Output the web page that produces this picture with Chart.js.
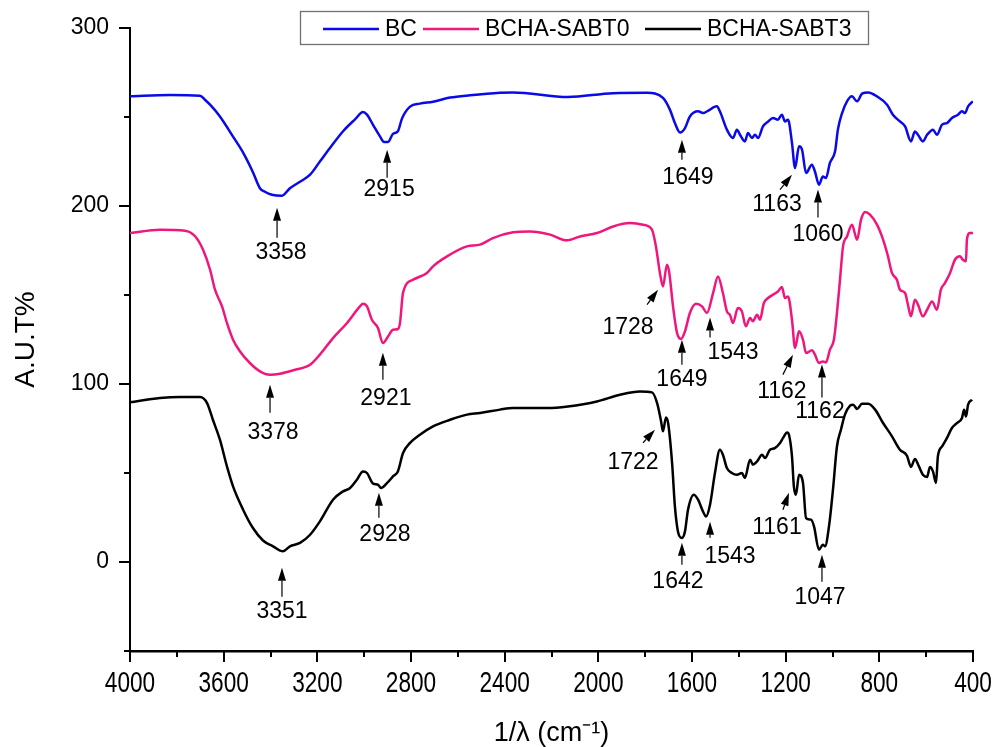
<!DOCTYPE html>
<html>
<head>
<meta charset="utf-8">
<script src="https://cdn.jsdelivr.net/npm/chart.js@4.4.1/dist/chart.umd.min.js"></script>
<style>
  html, body { margin: 0; padding: 0; background: #fff; }
  canvas { display: block; }
</style>
</head>
<body>
<canvas id="ftir" width="995" height="747"></canvas>
<script>
const seriesNames = ["BC", "BCHA-SABT0", "BCHA-SABT3"];
const seriesColors = ["#0a0ae8", "#f0177c", "#000000"];

// [wavenumber cm-1, A.U.T%]
const bcSpectrum = [
  [4000, 261.6], [3829, 262.3], [3701, 262.0], [3680, 259.7], [3658, 256.9], [3616, 250.3],
  [3560, 239.0], [3517, 230.0], [3475, 219.0], [3445, 210.0], [3424, 208.0], [3394, 206.3],
  [3351, 205.8], [3317, 210.0], [3274, 213.6], [3231, 217.6], [3189, 225.0], [3146, 232.6],
  [3090, 242.0], [3039, 248.7], [3005, 252.8], [2988, 251.3], [2962, 245.6], [2932, 239.0],
  [2915, 236.0], [2898, 236.0], [2877, 240.5], [2856, 242.0], [2838, 249.3], [2804, 255.8],
  [2762, 257.5], [2706, 258.6], [2633, 260.9], [2548, 262.2], [2420, 263.6], [2364, 263.8],
  [2130, 261.2], [1937, 263.4], [1792, 263.6], [1724, 260.7], [1694, 254.0], [1673, 246.6],
  [1651, 241.3], [1630, 243.8], [1609, 250.3], [1574, 253.2], [1553, 252.2], [1532, 253.5],
  [1494, 256.0], [1481, 253.2], [1451, 242.9], [1425, 238.2], [1408, 242.9], [1395, 240.0],
  [1374, 236.3], [1361, 241.0], [1344, 238.2], [1331, 240.0], [1318, 238.2], [1297, 244.7],
  [1275, 247.5], [1254, 249.4], [1233, 248.5], [1216, 251.3], [1203, 247.5], [1190, 248.5],
  [1173, 235.4], [1160, 221.3], [1143, 233.5], [1130, 231.6], [1113, 218.5], [1088, 223.2],
  [1075, 219.4], [1058, 212.0], [1041, 216.6], [1028, 215.7], [1011, 224.2], [989, 230.7],
  [977, 242.9], [959, 252.2], [938, 258.8], [917, 261.6], [895, 258.8], [874, 263.1],
  [848, 263.8], [810, 261.6], [767, 256.9], [742, 251.3], [712, 247.5], [690, 244.7],
  [665, 236.3], [648, 241.9], [635, 240.0], [614, 236.3], [596, 240.0], [571, 242.9],
  [554, 240.0], [532, 245.7], [511, 246.6], [490, 249.4], [464, 251.3], [447, 253.2],
  [434, 252.2], [421, 256.0], [400, 258.8]
];

const sabt0Spectrum = [
  [4000, 184.8], [3872, 186.7], [3765, 186.1], [3722, 183.0], [3688, 175.4], [3658, 164.2],
  [3637, 153.0], [3607, 143.6], [3586, 134.3], [3560, 124.9], [3530, 118.3], [3488, 111.8],
  [3445, 107.1], [3402, 105.2], [3359, 105.8], [3295, 108.0], [3231, 110.8], [3189, 116.5],
  [3133, 125.8], [3073, 134.3], [3018, 143.6], [3005, 145.1], [2988, 143.6], [2967, 136.1],
  [2941, 131.5], [2920, 123.0], [2898, 126.7], [2877, 130.5], [2856, 130.9], [2847, 134.3],
  [2834, 151.3], [2791, 158.6], [2732, 162.4], [2706, 166.1], [2646, 171.7], [2561, 177.3],
  [2505, 178.3], [2450, 182.0], [2364, 185.2], [2292, 185.7], [2206, 183.9], [2134, 180.7],
  [2078, 182.9], [2006, 184.8], [1937, 188.5], [1865, 190.4], [1809, 189.5], [1771, 186.7],
  [1754, 177.3], [1737, 162.4], [1724, 154.8], [1707, 167.0], [1698, 163.3], [1681, 143.6],
  [1664, 128.7], [1647, 125.3], [1630, 129.6], [1609, 139.9], [1583, 145.1], [1557, 143.6],
  [1536, 139.9], [1510, 151.1], [1489, 160.4], [1468, 151.1], [1451, 140.8], [1438, 138.9],
  [1425, 134.3], [1404, 142.7], [1387, 140.8], [1370, 132.4], [1352, 137.1], [1340, 135.2],
  [1322, 138.9], [1310, 136.1], [1293, 145.5], [1275, 148.3], [1254, 150.2], [1233, 152.0],
  [1216, 154.5], [1203, 148.3], [1190, 149.2], [1173, 136.1], [1160, 120.2], [1143, 129.6],
  [1126, 124.9], [1113, 117.4], [1088, 118.9], [1075, 116.5], [1058, 111.8], [1041, 112.7],
  [1028, 112.1], [1011, 119.3], [994, 124.9], [981, 139.9], [968, 158.6], [955, 177.3],
  [938, 182.9], [917, 189.5], [895, 181.1], [878, 192.3], [861, 196.6], [840, 195.1],
  [810, 189.5], [784, 181.1], [763, 171.7], [746, 162.4], [725, 158.6], [712, 153.0],
  [690, 151.1], [678, 144.6], [665, 138.0], [648, 147.4], [635, 144.6], [614, 138.0],
  [596, 141.7], [575, 146.4], [554, 141.7], [537, 153.0], [520, 156.7], [498, 162.4],
  [477, 169.8], [456, 171.7], [443, 169.8], [430, 168.9], [426, 181.1], [413, 184.8],
  [400, 184.8]
];

const sabt3Spectrum = [
  [4000, 89.7], [3872, 92.1], [3786, 92.7], [3701, 92.7], [3671, 89.3], [3646, 79.9],
  [3616, 68.7], [3586, 53.7], [3560, 42.5], [3517, 29.4], [3475, 19.1], [3432, 12.1],
  [3389, 8.8], [3347, 6.0], [3317, 8.8], [3274, 10.7], [3231, 15.3], [3189, 22.8],
  [3133, 35.0], [3090, 39.7], [3060, 41.6], [3031, 46.2], [3005, 50.9], [2988, 50.0],
  [2962, 44.0], [2941, 43.4], [2928, 41.6], [2902, 44.4], [2877, 48.1], [2856, 50.9],
  [2834, 61.2], [2804, 66.9], [2762, 71.5], [2706, 76.2], [2633, 79.9], [2561, 82.8],
  [2505, 83.7], [2420, 85.6], [2364, 86.5], [2219, 86.5], [2130, 87.4], [2006, 90.2],
  [1907, 94.0], [1822, 95.8], [1771, 95.3], [1749, 89.3], [1732, 79.0], [1724, 73.4],
  [1711, 81.2], [1702, 78.1], [1685, 55.6], [1673, 31.2], [1660, 17.2], [1643, 13.5],
  [1630, 17.2], [1617, 29.4], [1592, 37.8], [1574, 35.0], [1553, 28.4], [1540, 25.6],
  [1523, 32.2], [1502, 50.0], [1481, 63.1], [1468, 60.3], [1451, 52.8], [1430, 50.0],
  [1408, 49.0], [1387, 50.0], [1374, 47.2], [1352, 57.5], [1340, 54.7], [1322, 56.5],
  [1301, 60.3], [1288, 58.4], [1267, 63.1], [1246, 64.0], [1224, 66.9], [1211, 69.7],
  [1194, 72.8], [1186, 71.5], [1173, 59.3], [1165, 42.5], [1156, 37.8], [1143, 49.0],
  [1126, 44.4], [1113, 24.7], [1092, 23.8], [1079, 20.0], [1058, 6.9], [1041, 9.7],
  [1032, 8.8], [1015, 20.0], [998, 40.6], [981, 64.9], [964, 74.3], [947, 82.8],
  [925, 87.8], [912, 88.4], [895, 86.0], [874, 88.9], [848, 88.9], [818, 85.6],
  [784, 78.1], [746, 70.6], [712, 63.1], [682, 59.7], [665, 53.4], [648, 57.9],
  [631, 53.7], [614, 49.0], [596, 47.8], [584, 53.4], [571, 50.9], [558, 44.4],
  [550, 59.3], [532, 64.9], [511, 69.7], [490, 75.3], [468, 78.1], [447, 80.9],
  [438, 85.6], [430, 81.8], [421, 88.4], [404, 91.2]
];

const xTickLabels = [4000, 3600, 3200, 2800, 2400, 2000, 1600, 1200, 800, 400];
const yTickLabels = [0, 100, 200, 300];

// peak callouts: arrow tip in data units, tail and text offsets in px
const peakMarks = [
  { text: "3358", wave: 3372, value: 199.0, dx: 0, dy: 30, lx: 4, ly: 45 },
  { text: "2915", wave: 2902, value: 231.6, dx: 0, dy: 28, lx: 2, ly: 40 },
  { text: "1649", wave: 1643, value: 237.2, dx: 0, dy: 20, lx: 6, ly: 38 },
  { text: "1163", wave: 1173, value: 217.6, dx: -12, dy: 15, lx: -15, ly: 30 },
  { text: "1060", wave: 1062, value: 209.2, dx: 0, dy: 28, lx: 0, ly: 45 },
  { text: "3378", wave: 3402, value: 99.6, dx: 0, dy: 28, lx: 3, ly: 48 },
  { text: "2921", wave: 2920, value: 117.6, dx: 0, dy: 27, lx: 3, ly: 46 },
  { text: "1728", wave: 1745, value: 153.0, dx: -11, dy: 15, lx: -30, ly: 38 },
  { text: "1649", wave: 1643, value: 124.9, dx: 0, dy: 25, lx: 0, ly: 40 },
  { text: "1543", wave: 1523, value: 137.3, dx: 0, dy: 20, lx: 23, ly: 35 },
  { text: "1162", wave: 1169, value: 116.5, dx: -10, dy: 20, lx: -11, ly: 37 },
  { text: "1162", wave: 1045, value: 110.9, dx: 0, dy: 33, lx: -2, ly: 47 },
  { text: "3351", wave: 3351, value: -3.2, dx: 0, dy: 29, lx: 0, ly: 44 },
  { text: "2928", wave: 2937, value: 38.9, dx: 0, dy: 25, lx: 6, ly: 42 },
  { text: "1722", wave: 1758, value: 74.3, dx: -12, dy: 13, lx: -22, ly: 33 },
  { text: "1642", wave: 1643, value: 10.8, dx: 0, dy: 22, lx: -4, ly: 39 },
  { text: "1543", wave: 1523, value: 22.6, dx: 0, dy: 16, lx: 20, ly: 35 },
  { text: "1161", wave: 1186, value: 38.9, dx: -6, dy: 17, lx: -12, ly: 35 },
  { text: "1047", wave: 1045, value: 4.1, dx: 0, dy: 27, lx: -2, ly: 43 }
];

const SANS = '"Liberation Sans", Arial, sans-serif';

const toPoints = (rows) => rows.map(([x, y]) => ({ x, y }));

// fixed axis boxes, no extra room for overhanging labels
const fixBox = (size) => (s) => {
  if (s.isHorizontal()) s.height = size; else s.width = size;
  s.paddingTop = 0;
  s.paddingBottom = 0;
  s.paddingLeft = 0;
  s.paddingRight = 0;
};

// outward tick marks (long where a label sits) and condensed x labels
const outerTicks = {
  id: "outerTicks",
  afterDraw(chart) {
    const { ctx, chartArea, scales: { x, y } } = chart;
    ctx.save();
    ctx.strokeStyle = "#000";
    ctx.lineWidth = 2;
    ctx.beginPath();
    x.ticks.forEach((t) => {
      const px = Math.round(x.getPixelForValue(t.value));
      const len = xTickLabels.includes(t.value) ? 11 : 6;
      ctx.moveTo(px, chartArea.bottom);
      ctx.lineTo(px, chartArea.bottom + len);
    });
    y.ticks.forEach((t) => {
      const py = Math.round(y.getPixelForValue(t.value));
      const len = yTickLabels.includes(t.value) ? 11 : 6;
      ctx.moveTo(chartArea.left, py);
      ctx.lineTo(chartArea.left - len, py);
    });
    ctx.stroke();

    ctx.fillStyle = "#000";
    ctx.font = "29px " + SANS;
    ctx.textAlign = "center";
    ctx.textBaseline = "middle";
    xTickLabels.forEach((v) => {
      ctx.save();
      ctx.translate(x.getPixelForValue(v), chartArea.bottom + 33);
      ctx.scale(0.78, 1);
      ctx.fillText(String(v), 0, 0);
      ctx.restore();
    });
    ctx.restore();
  }
};

// arrows with wavenumber text under the bands
const peakArrows = {
  id: "peakArrows",
  afterDatasetsDraw(chart) {
    const { ctx, scales: { x, y } } = chart;
    ctx.save();
    ctx.fillStyle = "#000";
    ctx.strokeStyle = "#000";
    ctx.lineWidth = 1.2;
    ctx.font = "23px " + SANS;
    ctx.textAlign = "center";
    ctx.textBaseline = "middle";
    peakMarks.forEach((m) => {
      const tx = x.getPixelForValue(m.wave);
      const ty = y.getPixelForValue(m.value);
      const len = Math.hypot(m.dx, m.dy);
      const ux = -m.dx / len, uy = -m.dy / len;
      const head = 13, half = 4;
      const bx = tx - ux * head, by = ty - uy * head;
      ctx.beginPath();
      ctx.moveTo(tx + m.dx, ty + m.dy);
      ctx.lineTo(bx, by);
      ctx.stroke();
      ctx.beginPath();
      ctx.moveTo(tx, ty);
      ctx.lineTo(bx - uy * half, by + ux * half);
      ctx.lineTo(bx + uy * half, by - ux * half);
      ctx.closePath();
      ctx.fill();
      ctx.fillText(m.text, tx + m.lx, ty + m.ly);
    });
    ctx.restore();
  }
};

// single-row legend inside a framed box
const boxLegend = {
  id: "boxLegend",
  afterDraw(chart) {
    const ctx = chart.ctx;
    const itemX = [323, 423, 645];
    const rowY = 29;
    ctx.save();
    ctx.fillStyle = "#fff";
    ctx.fillRect(300, 11, 568, 33);
    ctx.strokeStyle = "#707070";
    ctx.lineWidth = 1.3;
    ctx.strokeRect(300.5, 11.5, 568, 33);
    ctx.font = "23px " + SANS;
    ctx.textBaseline = "middle";
    chart.data.datasets.forEach((ds, i) => {
      ctx.strokeStyle = ds.borderColor;
      ctx.lineWidth = 2.5;
      ctx.beginPath();
      ctx.moveTo(itemX[i], rowY);
      ctx.lineTo(itemX[i] + 56, rowY);
      ctx.stroke();
      ctx.fillStyle = "#000";
      ctx.fillText(ds.label, itemX[i] + 62, rowY + 1);
    });
    ctx.restore();
  }
};

const spectra = [bcSpectrum, sabt0Spectrum, sabt3Spectrum];

new Chart(document.getElementById("ftir"), {
  type: "line",
  data: {
    datasets: spectra.map((rows, i) => ({
      label: seriesNames[i],
      data: toPoints(rows),
      borderColor: seriesColors[i],
      backgroundColor: seriesColors[i],
      borderWidth: 2.5,
      pointRadius: 0,
      cubicInterpolationMode: "monotone",
      fill: false
    }))
  },
  options: {
    responsive: false,
    animation: false,
    events: [],
    layout: { padding: { top: 28, right: 22, bottom: 0, left: 0 } },
    plugins: {
      legend: { display: false },
      tooltip: { enabled: false }
    },
    scales: {
      x: {
        type: "linear",
        reverse: true,
        min: 400,
        max: 4000,
        afterFit: fixBox(96),
        grid: { display: false, drawTicks: false },
        border: { display: true, color: "#000", width: 2.5 },
        ticks: { display: false, stepSize: 200, autoSkip: false },
        title: {
          display: true,
          text: "1/λ (cm⁻¹)",
          color: "#000",
          padding: { top: 0, bottom: 0 },
          font: { family: SANS, size: 27, lineHeight: 1 }
        }
      },
      y: {
        min: -50,
        max: 300,
        afterFit: fixBox(130),
        grid: { display: false, drawTicks: false },
        border: { display: true, color: "#000", width: 2 },
        ticks: {
          stepSize: 50,
          autoSkip: false,
          padding: 21,
          color: "#000",
          font: { family: SANS, size: 23 },
          callback: (v) => (yTickLabels.includes(v) ? String(v) : "")
        },
        title: {
          display: true,
          text: "A.U.T%",
          color: "#000",
          padding: { top: 9, bottom: 0 },
          font: { family: SANS, size: 28 }
        }
      }
    }
  },
  plugins: [outerTicks, peakArrows, boxLegend]
});
</script>
</body>
</html>
